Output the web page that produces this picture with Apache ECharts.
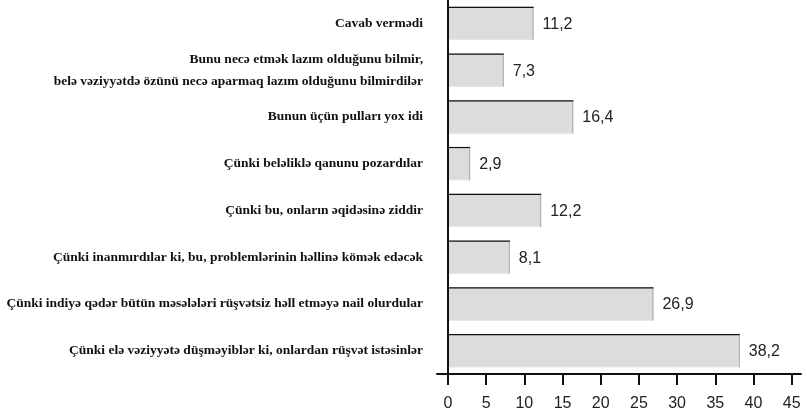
<!DOCTYPE html>
<html><head><meta charset="utf-8">
<script src="https://cdn.jsdelivr.net/npm/echarts@6/dist/echarts.min.js"></script>
<style>html,body{margin:0;padding:0;background:#fff}#c{width:807px;height:413px}</style>
</head><body><div id="c"></div>
<script>
const categories = [
  "Cavab vermədi",
  "Bunu necə etmək lazım olduğunu bilmir,\nbelə vəziyyətdə özünü necə aparmaq lazım olduğunu bilmirdilər",
  "Bunun üçün pulları yox idi",
  "Çünki beləliklə qanunu pozardılar",
  "Çünki bu, onların əqidəsinə ziddir",
  "Çünki inanmırdılar ki, bu, problemlərinin həllinə kömək edəcək",
  "Çünki indiyə qədər bütün məsələləri rüşvətsiz həll etməyə nail olurdular",
  "Çünki elə vəziyyətə düşməyiblər ki, onlardan rüşvət istəsinlər"
];
const values = [11.2, 7.3, 16.4, 2.9, 12.2, 8.1, 26.9, 38.2];
const tickValues = [0, 5, 10, 15, 20, 25, 30, 35, 40, 45];

const chart = echarts.init(document.getElementById('c'));
chart.setOption({
  animation: false,
  grid: { left: 437, right: 6, top: -2, bottom: 39, containLabel: false },
  xAxis: {
    type: 'value', min: -1.44, max: 46.22,
    splitLine: { show: false },
    axisLine: { show: true, onZero: false, lineStyle: { color: '#111', width: 2 } },
    axisTick: { show: true, length: 11, customValues: tickValues, lineStyle: { color: '#111', width: 2 } },
    axisLabel: { customValues: tickValues, margin: 22, fontFamily: 'Liberation Sans', fontSize: 16, color: '#222' }
  },
  yAxis: {
    type: 'category', inverse: true, data: categories,
    axisLine: { show: true, onZero: true, lineStyle: { color: '#111', width: 2 } },
    axisTick: { show: false },
    axisLabel: { margin: 14, fontFamily: 'Liberation Serif', fontWeight: 'bold', fontSize: 13.5, color: '#111', lineHeight: 22 }
  },
  series: [{
    type: 'custom',
    data: values.map((v, i) => [v, i]),
    encode: { x: 0, y: 1 },
    clip: false,
    renderItem: function (params, api) {
      const v = api.value(0), c = api.value(1);
      const s = api.coord([0, c]);
      const e = api.coord([v, c]);
      const h = api.size([0, 1])[1] * 0.71;
      const x0 = s[0] + 1, x1 = e[0], y0 = s[1] - h / 2, y1 = s[1] + h / 2;
      return {
        type: 'group',
        children: [
          { type: 'rect', shape: { x: x0, y: y0, width: x1 - x0, height: h }, style: { fill: '#dcdcdc', stroke: null } },
          { type: 'line', shape: { x1: x0, y1: y1 - 0.5, x2: x1, y2: y1 - 0.5 }, style: { stroke: '#e6e6e6', lineWidth: 1 } },
          { type: 'line', shape: { x1: x1 - 0.5, y1: y0, x2: x1 - 0.5, y2: y1 }, style: { stroke: '#a8a8a8', lineWidth: 1 } },
          { type: 'line', shape: { x1: x0, y1: y0 + 0.5, x2: x1, y2: y0 + 0.5 }, style: { stroke: '#111', lineWidth: 1.2 } },
          { type: 'text', x: x1 + 9, y: s[1] + 1, style: { text: String(v).replace('.', ','), fill: '#222', font: '16px "Liberation Sans"', verticalAlign: 'middle', align: 'left' } }
        ]
      };
    }
  }]
});
</script></body></html>
